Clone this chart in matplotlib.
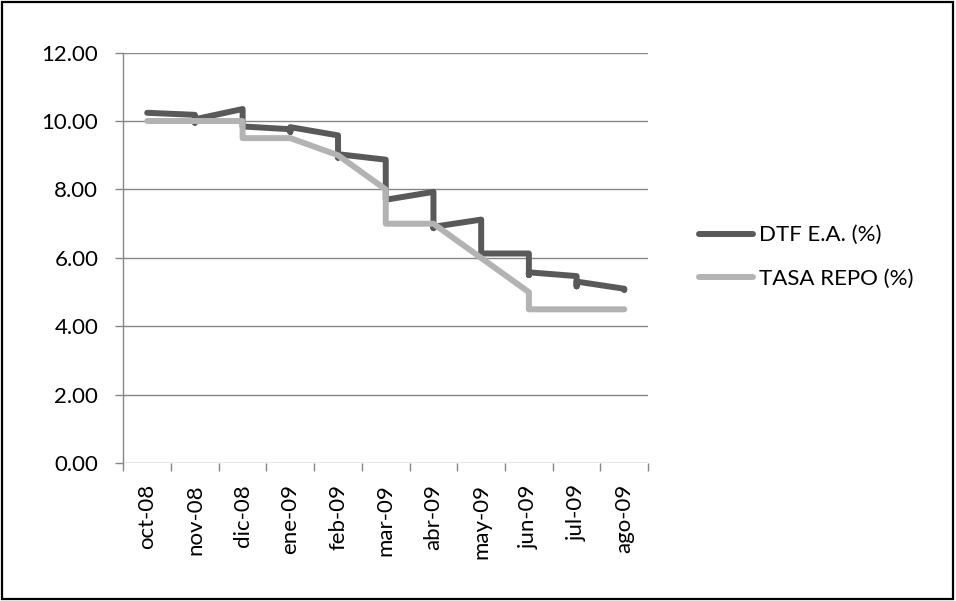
import matplotlib
matplotlib.use("Agg")
import matplotlib.pyplot as plt
from matplotlib.patches import Rectangle
from matplotlib.ticker import FixedLocator, NullFormatter, FuncFormatter

plt.rcParams['font.family'] = ['Lato', 'DejaVu Sans']

# Monthly categories
months = ['oct-08', 'nov-08', 'dic-08', 'ene-09', 'feb-09', 'mar-09',
          'abr-09', 'may-09', 'jun-09', 'jul-09', 'ago-09']

# Weekly observations grouped by month (several readings per month)
dtf_ea = [
    [10.24],
    [10.18, 9.95, 10.05],
    [10.35, 9.84],
    [9.76, 9.68, 9.82],
    [9.58, 8.93, 9.03],
    [8.87, 7.70],
    [7.93, 6.87, 6.91],
    [7.12, 6.13],
    [6.13, 5.50, 5.58],
    [5.47, 5.17, 5.31],
    [5.10, 5.06],
]
tasa_repo = [
    [10.0],
    [10.0],
    [10.0, 9.5],
    [9.5],
    [9.0],
    [8.0, 7.0],
    [7.0],
    [6.0],
    [5.0, 4.5],
    [4.5],
    [4.5],
]
series_names = ['DTF E.A. (%)', 'TASA REPO (%)']
y_ticks = [0, 2, 4, 6, 8, 10, 12]


def flatten(groups):
    xs, ys = [], []
    for i, vals in enumerate(groups):
        for v in vals:
            xs.append(i)
            ys.append(v)
    return xs, ys


fig = plt.figure(figsize=(9.56, 6.01), dpi=100)
ax = fig.add_axes([0.129, 0.229, 0.549, 0.6836])

grid_col = '#878787'
dark = '#595959'
light = '#b3b3b3'

for y in y_ticks:
    ax.axhline(y, color=grid_col, lw=1.0, zorder=1)

x1, y1 = flatten(dtf_ea)
x2, y2 = flatten(tasa_repo)
ax.plot(x1, y1, color=dark, lw=4.3, solid_capstyle='round',
        solid_joinstyle='round', label=series_names[0], zorder=3)
ax.plot(x2, y2, color=light, lw=4.3, solid_capstyle='round',
        solid_joinstyle='round', label=series_names[1], zorder=4)

ax.set_xlim(-0.5, len(months) - 0.5)
ax.set_ylim(0, 12)

for s in ['top', 'right', 'bottom']:
    ax.spines[s].set_visible(False)
ax.spines['left'].set_color(grid_col)
ax.spines['left'].set_linewidth(1.0)

ax.xaxis.set_major_locator(FixedLocator([i - 0.5 for i in range(len(months) + 1)]))
ax.xaxis.set_major_formatter(NullFormatter())
ax.xaxis.set_minor_locator(FixedLocator(range(len(months))))
ax.set_xticklabels(months, minor=True, rotation=90, fontsize=16)
ax.tick_params(axis='x', which='major', length=5.5, width=1.0, color=grid_col,
               direction='out')
ax.tick_params(axis='x', which='minor', length=0, pad=15)

ax.set_yticks(y_ticks)
ax.yaxis.set_major_formatter(FuncFormatter(lambda v, p: f'{v:.2f}'))
ax.tick_params(axis='y', length=6, width=1.0, color=grid_col, pad=12,
               labelsize=16)

fig.legend(loc='center left', bbox_to_anchor=(0.731, 0.572), frameon=False,
           fontsize=16, handlelength=2.45, handletextpad=0.25,
           labelspacing=1.07, borderpad=0, borderaxespad=0)

fig.patches.append(Rectangle((0.002, 0.003), 0.995, 0.994,
                             transform=fig.transFigure, fill=False,
                             edgecolor='black', lw=1.6))

fig.savefig('out.png', dpi=100)
